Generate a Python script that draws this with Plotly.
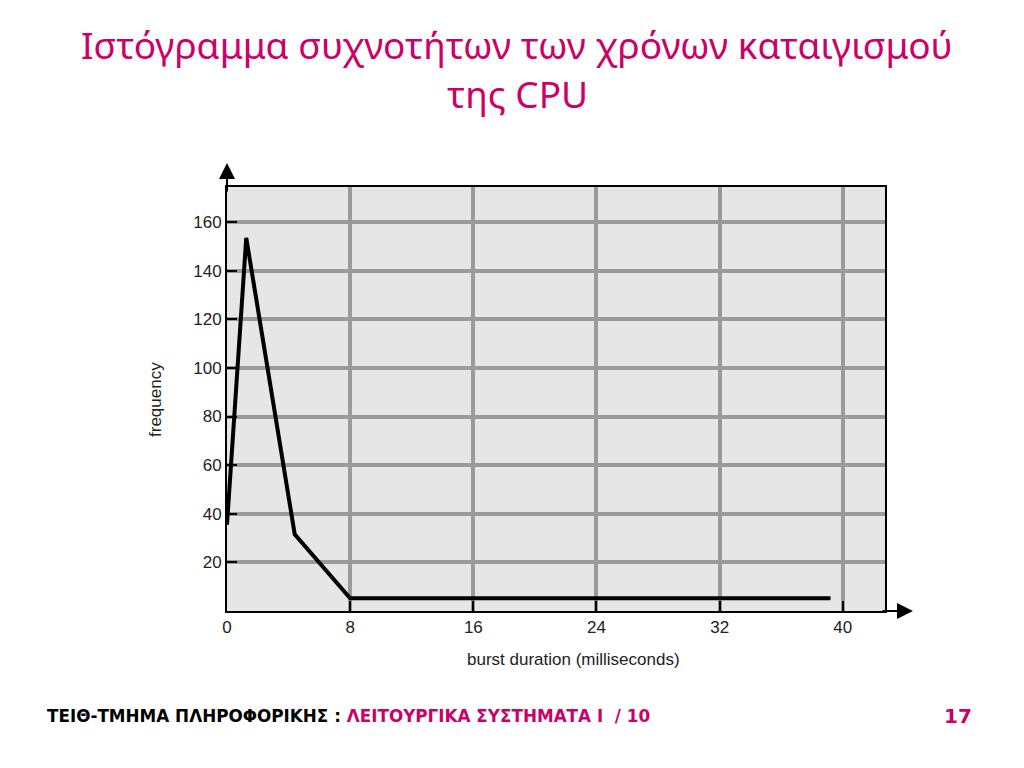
import plotly.graph_objects as go

# Data
burst_ms = [0, 1.25, 4.4, 8, 39.2]
frequency = [35.5, 153.5, 31.5, 5.2, 5.2]
x_ticks = [0, 8, 16, 24, 32, 40]
y_ticks = [20, 40, 60, 80, 100, 120, 140, 160]

title_line1 = "Ιστόγραμμα συχνοτήτων των χρόνων καταιγισμού"
title_line2 = "της CPU"
x_title = "burst duration (milliseconds)"
y_title = "frequency"
footer_black = "ΤΕΙΘ-ΤΜΗΜΑ ΠΛΗΡΟΦΟΡΙΚΗΣ : "
footer_pink = "ΛΕΙΤΟΥΡΓΙΚΑ ΣΥΣΤΗΜΑΤΑ Ι  / 10"
page_no = "17"

PINK = "#CC0066"
W, H = 1024, 768
OFF = 8  # page offset of the figure in the browser
L, R, T, B = 227, 885, 187, 611  # target plot-area edges on screen

fig = go.Figure()
fig.add_trace(go.Scatter(x=burst_ms, y=frequency, mode="lines",
                         line=dict(color="black", width=4), showlegend=False,
                         cliponaxis=False))

axis_font = dict(family="Liberation Sans, Arial, sans-serif", size=17, color="#222")

fig.update_layout(
    width=W, height=H, autosize=False,
    margin=dict(l=L - OFF, r=W + OFF - R, t=T - OFF, b=H + OFF - B, pad=0),
    paper_bgcolor="white", plot_bgcolor="#e6e6e6",
    xaxis=dict(range=[0, 42.74], tickvals=x_ticks, ticktext=[str(v) for v in x_ticks],
               showgrid=True, gridcolor="#9a9a9a", gridwidth=4,
               ticks="inside", ticklen=10, tickwidth=2, tickcolor="black",
               showline=True, linecolor="black", linewidth=2, mirror=True,
               zeroline=False, tickfont=axis_font, fixedrange=True),
    yaxis=dict(range=[0, 174.4], tickvals=y_ticks, ticktext=[str(v) for v in y_ticks],
               showgrid=True, gridcolor="#9a9a9a", gridwidth=4,
               ticks="inside", ticklen=10, tickwidth=2, tickcolor="black",
               showline=True, linecolor="black", linewidth=2, mirror=True,
               zeroline=False, tickfont=axis_font, fixedrange=True),
)

pw, ph = R - L, B - T


def px(x):
    return (x - L) / pw


def py(y):
    return (B - y) / ph


ann = []
# axis arrows
ann.append(dict(xref="paper", yref="paper", x=0, y=py(163), ax=0, ay=30,
                axref="pixel", ayref="pixel", showarrow=True, arrowhead=2,
                arrowsize=1.6, arrowwidth=2, arrowcolor="black", text=""))
ann.append(dict(xref="paper", yref="paper", x=px(913), y=0, ax=-32, ay=0,
                axref="pixel", ayref="pixel", showarrow=True, arrowhead=2,
                arrowsize=1.6, arrowwidth=2, arrowcolor="black", text=""))
# axis titles
ann.append(dict(xref="paper", yref="paper", x=px(573), y=py(659),
                text=x_title, showarrow=False, font=axis_font,
                xanchor="center", yanchor="middle"))
ann.append(dict(xref="paper", yref="paper", x=px(155), y=py(400),
                text=y_title, showarrow=False, font=axis_font, textangle=-90,
                xanchor="center", yanchor="middle"))
# title
title_font = dict(family="Noto Sans, sans-serif", size=37, color=PINK)
ann.append(dict(xref="paper", yref="paper", x=px(517), y=py(45),
                text=title_line1, showarrow=False, font=title_font,
                xanchor="center", yanchor="middle"))
ann.append(dict(xref="paper", yref="paper", x=px(517), y=py(93),
                text=title_line2, showarrow=False, font=title_font,
                xanchor="center", yanchor="middle"))
# footer
ann.append(dict(xref="paper", yref="paper", x=px(45), y=py(716),
                text=f"<b>{footer_black}</b><b><span style='color:{PINK}'>{footer_pink}</span></b>",
                showarrow=False, font=dict(family="DejaVu Sans, sans-serif", size=16.8, color="black"),
                xanchor="left", yanchor="middle"))
ann.append(dict(xref="paper", yref="paper", x=px(958), y=py(716),
                text=f"<b>{page_no}</b>", showarrow=False,
                font=dict(family="DejaVu Sans, sans-serif", size=20, color=PINK),
                xanchor="center", yanchor="middle"))
fig.update_layout(annotations=ann)

fig.write_html("out.html")
